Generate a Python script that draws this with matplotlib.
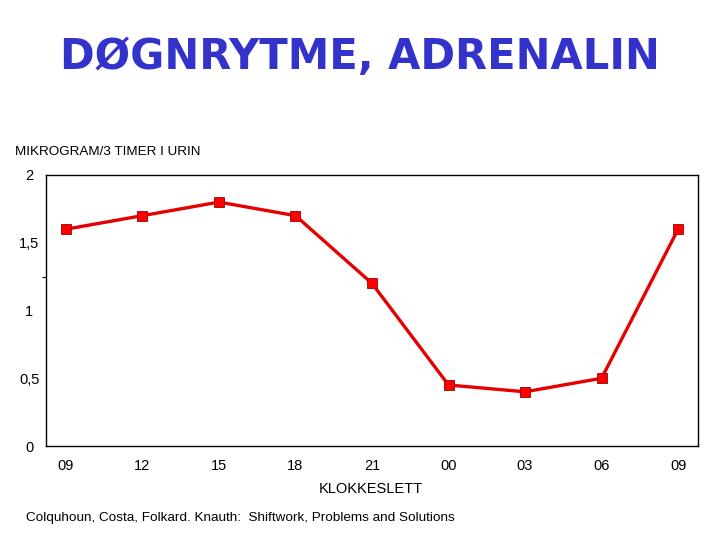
import matplotlib.pyplot as plt

plt.rcParams['font.family'] = ['Liberation Sans', 'DejaVu Sans']

hours = ["09", "12", "15", "18", "21", "00", "03", "06", "09"]
adrenalin = [1.6, 1.7, 1.8, 1.7, 1.2, 0.45, 0.4, 0.5, 1.6]
y_ticks = [0, 0.5, 1, 1.5, 2]
y_labels = ["0", "0,5", "1", "1,5", "2"]

x = list(range(len(hours)))

fig = plt.figure(figsize=(7.2, 5.4), dpi=100)
ax = fig.add_axes([46 / 720, 1 - 446 / 540, 652 / 720, 271 / 540])

ax.plot(x, adrenalin, color="#e60000", linewidth=2.4, marker="s", markersize=7.5,
        markerfacecolor="#ff0000", markeredgecolor="#990000", markeredgewidth=0.6)

ax.set_xlim(-0.26, 8.26)
ax.set_ylim(0, 2)

ax.set_xticks(x)
ax.set_xticklabels(hours, fontsize=10.5)
ax.tick_params(axis="x", length=0, pad=9)
ax.set_xticks([1, 2, 8], minor=True)
ax.tick_params(axis="x", which="minor", direction="in", length=7, width=0.8)

ax.set_yticks(y_ticks)
ax.set_yticklabels(y_labels, fontsize=10.5, ha="center")
ax.tick_params(axis="y", length=0, pad=12)
ax.set_yticks([1.25], minor=True)
ax.tick_params(axis="y", which="minor", direction="out", length=3, width=0.8)

for s in ax.spines.values():
    s.set_linewidth(1.0)

fig.text(15 / 720, 1 - 152 / 540, "MIKROGRAM/3 TIMER I URIN", fontsize=9.7, va="center")
fig.text(371 / 720, 1 - 489 / 540, "KLOKKESLETT", fontsize=10.5, ha="center", va="center")
fig.text(26 / 720, 1 - 518 / 540, "Colquhoun, Costa, Folkard. Knauth:  Shiftwork, Problems and Solutions",
         fontsize=9.7, va="center")
fig.text(360 / 720, 1 - 57 / 540, "DØGNRYTME, ADRENALIN", fontsize=30, ha="center", va="center",
         color="#3333cc", weight="bold", family=["DejaVu Sans"])

fig.savefig("out.png", dpi=100)
